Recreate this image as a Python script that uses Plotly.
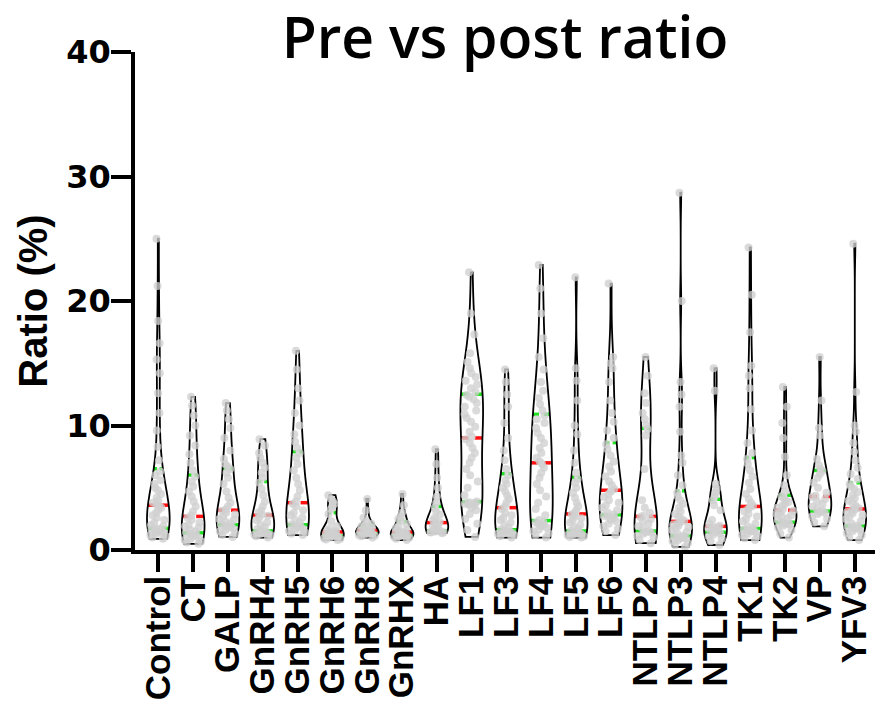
import numpy as np
import plotly.graph_objects as go

categories = ["Control", "CT", "GALP", "GnRH4", "GnRH5", "GnRH6", "GnRH8", "GnRHX", "HA",
              "LF1", "LF3", "LF4", "LF5", "LF6", "NTLP2", "NTLP3", "NTLP4", "TK1", "TK2", "VP", "YFV3"]

control = [0.9, 1.0, 1.1, 1.2, 1.3, 1.4, 1.45, 1.5, 1.6, 1.65, 1.7,
           1.75, 1.9, 2.0, 2.2, 2.4, 2.6, 2.8, 3.0, 3.2, 3.4, 3.55,
           3.65, 3.8, 4.0, 4.2, 4.5, 4.8, 5.0, 5.3, 5.6, 6.0, 6.3,
           7.2, 8.3, 9.6, 11.0, 12.6, 14.2, 15.3, 16.6, 18.4, 21.2, 25.0]
ct = [0.5, 0.6, 0.7, 0.8, 0.9, 1.0, 1.1, 1.2, 1.3,
      1.4, 1.5, 1.6, 1.8, 1.9, 2.0, 2.2, 2.4, 2.6,
      2.8, 3.1, 3.5, 3.9, 4.3, 4.7, 5.1, 5.5, 5.9,
      6.4, 7.0, 7.7, 8.4, 9.2, 10.0, 10.8, 11.6, 12.3]
galp = [1.05, 1.2, 1.35, 1.5, 1.6, 1.7, 1.8, 1.9, 1.95,
        2.05, 2.15, 2.3, 2.4, 2.5, 2.7, 2.85, 3.0, 3.15,
        3.25, 3.5, 3.8, 4.2, 4.7, 5.3, 5.8, 6.2, 6.5,
        6.7, 6.9, 7.3, 8.0, 9.0, 9.8, 10.5, 11.2, 11.8]
gnrh4 = [1.0, 1.1, 1.2, 1.25, 1.3, 1.35, 1.4, 1.48,
         1.55, 1.7, 1.85, 2.0, 2.2, 2.4, 2.6, 2.75,
         2.85, 3.0, 3.2, 3.5, 3.9, 4.4, 4.9, 5.4,
         5.8, 6.2, 6.6, 7.0, 7.4, 7.8, 8.4, 8.9]
gnrh5 = [1.2, 1.3, 1.4, 1.5, 1.6, 1.7, 1.8, 1.9, 1.95,
         2.05, 2.2, 2.4, 2.6, 2.8, 3.0, 3.2, 3.5, 3.7,
         3.9, 4.3, 4.8, 5.3, 5.8, 6.4, 6.9, 7.4, 7.8,
         8.2, 8.7, 9.3, 10.0, 11.0, 12.0, 13.0, 14.5, 16.0]
gnrh6 = [0.8, 0.85, 0.9, 0.95, 1.0, 1.08,
         1.12, 1.18, 1.25, 1.3, 1.38, 1.42,
         1.48, 1.55, 1.7, 1.9, 2.3, 2.9,
         3.3, 3.5, 3.7, 3.9, 4.1, 4.4]
gnrh8 = [1.0, 1.1, 1.15, 1.2, 1.25,
         1.32, 1.4, 1.45, 1.5, 1.55,
         1.65, 1.7, 1.8, 1.9, 1.95,
         2.1, 2.3, 2.6, 3.2, 4.1]
gnrhx = [0.8, 0.9, 1.0, 1.05, 1.12, 1.18,
         1.22, 1.28, 1.32, 1.38, 1.42,
         1.48, 1.6, 1.75, 1.9, 2.1,
         2.35, 2.5, 2.7, 3.0, 3.6, 4.5]
ha = [1.35, 1.4, 1.42, 1.45, 1.48, 1.5,
      1.55, 1.65, 1.8, 1.9, 2.05, 2.15,
      2.25, 2.4, 2.6, 2.85, 3.1, 3.4,
      3.8, 4.3, 5.0, 5.8, 6.9, 8.1]
lf1 = [1.05, 1.6, 2.1, 2.5, 2.9, 3.2, 3.4, 3.55, 3.65, 3.72, 3.78, 3.84,
       3.9, 4.4, 5.0, 5.5, 6.0, 6.5, 7.0, 7.4, 7.8, 8.2, 8.6, 8.9,
       9.1, 9.5, 9.9, 10.3, 10.6, 10.9, 11.2, 11.5, 11.8, 12.1, 12.3, 12.45,
       12.7, 13.0, 13.3, 13.6, 13.9, 14.2, 14.6, 15.1, 15.8, 17.3, 19.0, 22.3]
lf3 = [1.0, 1.1, 1.2, 1.3, 1.35, 1.4, 1.45, 1.5, 1.55,
       1.65, 1.8, 2.0, 2.2, 2.4, 2.6, 2.8, 3.0, 3.3,
       3.5, 3.8, 4.1, 4.4, 4.7, 5.0, 5.3, 5.6, 6.0,
       6.5, 7.2, 8.0, 9.0, 10.2, 11.5, 12.5, 13.5, 14.5]
lf4 = [1.0, 1.2, 1.35, 1.5, 1.65, 1.8, 1.9, 2.0, 2.1, 2.2, 2.25,
       2.4, 2.8, 3.3, 3.8, 4.3, 4.8, 5.3, 5.8, 6.2, 6.6, 6.9,
       7.1, 7.4, 7.8, 8.2, 8.6, 9.0, 9.4, 9.8, 10.2, 10.5, 10.8,
       11.2, 11.7, 12.2, 12.8, 13.5, 14.5, 15.5, 17.0, 19.0, 21.0, 22.9]
lf5 = [1.0, 1.05, 1.1, 1.2, 1.25, 1.3, 1.35, 1.4, 1.45,
       1.55, 1.7, 1.85, 2.0, 2.2, 2.4, 2.55, 2.7, 2.85,
       2.95, 3.2, 3.5, 3.8, 4.2, 4.6, 5.0, 5.4, 5.7,
       6.2, 7.0, 8.0, 9.3, 10.0, 12.0, 13.6, 14.6, 21.9]
lf6 = [1.2, 1.5, 1.7, 1.9, 2.1, 2.3, 2.45, 2.6, 2.7, 2.75,
       2.85, 3.0, 3.2, 3.4, 3.6, 3.8, 4.0, 4.25, 4.5, 4.7,
       4.9, 5.2, 5.5, 5.9, 6.3, 6.7, 7.1, 7.6, 8.1, 8.5,
       9.0, 9.6, 10.3, 11.0, 12.0, 13.5, 14.6, 15.0, 15.5, 21.4]
ntlp2 = [0.55, 0.8, 1.0, 1.15, 1.3, 1.4, 1.45,
         1.55, 1.7, 1.9, 2.1, 2.3, 2.5, 2.65,
         2.75, 3.0, 3.4, 4.0, 6.5, 9.2, 9.7,
         10.0, 10.5, 11.0, 11.8, 12.6, 14.0, 15.5]
ntlp3 = [0.25, 0.4, 0.55, 0.7, 0.8, 0.9, 0.95, 1.0, 1.05, 1.08,
         1.15, 1.3, 1.45, 1.6, 1.75, 1.85, 1.95, 2.05, 2.15, 2.25,
         2.35, 2.5, 2.7, 2.9, 3.1, 3.4, 3.7, 4.0, 4.3, 4.6,
         5.2, 6.0, 7.0, 7.6, 9.5, 11.5, 12.5, 13.5, 20.0, 28.7]
ntlp4 = [0.4, 0.7, 0.9, 1.1, 1.25, 1.35,
         1.45, 1.55, 1.65, 1.72, 1.8, 1.85,
         1.95, 2.1, 2.4, 3.2, 3.6, 4.0,
         4.3, 4.6, 4.9, 5.3, 12.8, 14.6]
tk1 = [0.8, 0.95, 1.1, 1.2, 1.3, 1.4, 1.5, 1.55, 1.6, 1.65,
       1.75, 1.9, 2.1, 2.3, 2.5, 2.7, 2.9, 3.1, 3.3, 3.45,
       3.55, 3.8, 4.1, 4.5, 4.9, 5.4, 5.9, 6.4, 6.9, 7.3,
       7.8, 8.6, 9.6, 11.3, 13.0, 14.0, 14.8, 17.5, 20.5, 24.3]
tk2 = [1.0, 1.3, 1.6, 1.8, 1.95, 2.05, 2.1, 2.15,
       2.25, 2.4, 2.55, 2.7, 2.8, 2.9, 3.0, 3.15,
       3.25, 3.4, 3.55, 3.7, 3.85, 4.0, 4.15, 4.3,
       4.7, 5.2, 6.0, 7.5, 9.0, 10.2, 11.5, 13.1]
vp = [1.9, 2.2, 2.5, 2.7, 2.9, 3.0, 3.05,
      3.15, 3.3, 3.5, 3.7, 3.9, 4.1, 4.25,
      4.35, 4.6, 5.0, 5.4, 5.8, 6.1, 6.35,
      6.5, 6.8, 7.3, 9.2, 9.8, 12.0, 15.5]
yfv3 = [0.8, 1.0, 1.2, 1.35, 1.5, 1.6, 1.7, 1.78, 1.84, 1.88,
        1.95, 2.1, 2.3, 2.5, 2.65, 2.8, 2.95, 3.05, 3.15, 3.25,
        3.35, 3.55, 3.75, 3.95, 4.15, 4.4, 4.65, 4.9, 5.1, 5.3,
        5.7, 6.1, 6.6, 7.2, 7.9, 8.6, 9.5, 10.0, 12.7, 24.6]

series = [control, ct, galp, gnrh4, gnrh5, gnrh6, gnrh8, gnrhx, ha, lf1, lf3, lf4,
          lf5, lf6, ntlp2, ntlp3, ntlp4, tk1, tk2, vp, yfv3]

y_ticks = [0, 10, 20, 30, 40]

VW = 0.65          # violin width in category units
MED_COLOR = "#ff1010"
QRT_COLOR = "#22e022"


def silverman(vals):
    v = np.asarray(vals, float)
    q1, q3 = np.percentile(v, [25, 75])
    sd = v.std(ddof=1)
    a = min(sd, (q3 - q1) / 1.349)
    bw = 1.059 * a * len(v) ** -0.2
    return max(bw, (v.max() - v.min()) / 100)


def kde(vals, bw, x):
    v = np.asarray(vals, float)
    x = np.atleast_1d(x)
    z = (x[:, None] - v[None, :]) / bw
    return np.exp(-0.5 * z ** 2).sum(axis=1) / (len(v) * bw * np.sqrt(2 * np.pi))


fig = go.Figure()
shapes = []
for i, (cat, vals) in enumerate(zip(categories, series)):
    bw = silverman(vals)
    fig.add_trace(go.Violin(
        x=[cat] * len(vals), y=vals, name=cat,
        bandwidth=bw, spanmode="hard", scalemode="width", width=VW,
        line=dict(color="black", width=1.8), fillcolor="rgba(0,0,0,0)",
        points="all", pointpos=0, jitter=0.9,
        marker=dict(size=8, color="rgba(208,208,208,0.78)", line=dict(width=0)),
        box_visible=False, meanline_visible=False, showlegend=False,
        hoveron="points",
    ))
    grid = np.linspace(min(vals), max(vals), 300)
    dmax = kde(vals, bw, grid).max()
    q1, med, q3 = np.percentile(vals, [25, 50, 75])
    for q, col in ((q1, QRT_COLOR), (med, MED_COLOR), (q3, QRT_COLOR)):
        hw = float(kde(vals, bw, q)[0] / dmax * VW / 2)
        gap = hw * 0.28
        for a, b in ((i - hw, i - gap), (i + gap, i + hw)):
            shapes.append(dict(type="line", xref="x", yref="y", x0=a, x1=b, y0=q, y1=q,
                               line=dict(color=col, width=3.5), layer="below"))

fig.update_layout(
    width=875, height=706,
    margin=dict(l=135, r=0, t=52, b=156),
    paper_bgcolor="white", plot_bgcolor="white",
    violinmode="overlay",
    shapes=shapes,
    title=dict(text="Pre vs post ratio", x=0.5, xref="paper", xanchor="center",
               y=1 - 38 / 706, yref="container", yanchor="middle",
               font=dict(family="Open Sans", size=57, color="black", weight=600)),
    xaxis=dict(type="category", categoryorder="array", categoryarray=categories,
               tickmode="array", tickvals=categories, ticktext=categories,
               range=[-0.67, 20.58], showline=True, linecolor="black", linewidth=3.5,
               ticks="outside", ticklen=18, tickwidth=3.5, tickcolor="black",
               tickangle=-90, showgrid=False, zeroline=False, ticklabelstandoff=-10,
               tickfont=dict(family="Liberation Sans", size=35, color="black", weight="bold")),
    yaxis=dict(range=[0, 40], tickvals=y_ticks, showline=True, linecolor="black", linewidth=3.5,
               ticks="outside", ticklen=20, tickwidth=3.5, tickcolor="black",
               showgrid=False, zeroline=False, ticklabelstandoff=-6,
               tickfont=dict(family="DejaVu Sans", size=32, color="black", weight="bold"),
               title=dict(text="Ratio (%)", standoff=7,
                          font=dict(family="Liberation Sans", size=40, color="black", weight="bold"))),
)

fig.write_html("out.html", config={"displayModeBar": False},
               post_script="document.body.style.margin='0';document.body.style.padding='0';")
